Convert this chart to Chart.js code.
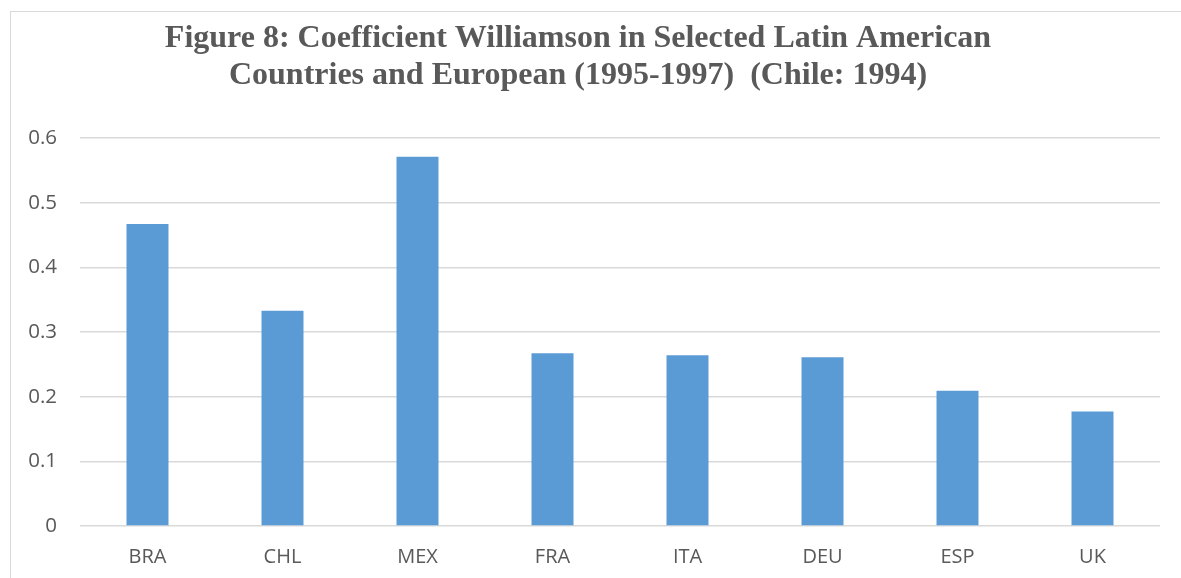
<!DOCTYPE html>
<html>
<head>
<meta charset="utf-8">
<script src="https://cdn.jsdelivr.net/npm/chart.js@4"></script>
<style>
html,body{margin:0;padding:0;background:#fff;overflow:hidden;}
#frame{position:absolute;left:10px;top:11px;width:1300px;height:700px;border:1px solid #d9d9d9;}
#wrap{position:absolute;left:0;top:0;width:1181px;height:578px;}
</style>
</head>
<body>
<div id="frame"></div>
<div id="wrap"><canvas id="c" width="1181" height="578"></canvas></div>
<script>
const categories = ["BRA","CHL","MEX","FRA","ITA","DEU","ESP","UK"];
const values = [0.467, 0.333, 0.571, 0.267, 0.264, 0.261, 0.209, 0.177];
const titleLines = ["Figure 8: Coefficient Williamson in Selected Latin American",
                    "Countries and European (1995-1997)  (Chile: 1994)"];
const yTicks = [0, 0.1, 0.2, 0.3, 0.4, 0.5, 0.6];

const titlePlugin = {
  id: 'customTitle',
  afterDraw(chart) {
    const ctx = chart.ctx;
    ctx.save();
    ctx.font = 'bold 32px "Liberation Serif", "Times New Roman", serif';
    ctx.fillStyle = '#595959';
    ctx.textAlign = 'center';
    ctx.textBaseline = 'alphabetic';
    ctx.fillText(titleLines[0], 578, 47);
    ctx.fillText(titleLines[1], 578, 84);
    ctx.restore();
  }
};

new Chart(document.getElementById('c'), {
  type: 'bar',
  data: {
    labels: categories,
    datasets: [{
      data: values,
      backgroundColor: '#5b9bd5',
      borderWidth: 0,
      barPercentage: 0.311,
      categoryPercentage: 1.0
    }]
  },
  options: {
    responsive: false,
    animation: false,
    layout: { padding: { left: 0, right: 21, top: 138, bottom: 0 } },
    plugins: { legend: { display: false }, title: { display: false }, tooltip: { enabled: false } },
    scales: {
      x: {
        grid: { display: false, drawTicks: false },
        border: { display: false },
        ticks: { color: '#595959', font: { family: '"Open Sans", sans-serif', size: 20 }, padding: 19 },
        afterFit(scale) { scale.height = 52; }
      },
      y: {
        min: 0, max: 0.6,
        afterBuildTicks(scale) { scale.ticks = yTicks.map(v => ({ value: v })); },
        grid: { color: '#d9d9d9', lineWidth: 1.5, drawTicks: false },
        border: { display: false },
        ticks: {
          color: '#595959', font: { family: '"Open Sans", sans-serif', size: 20.5 }, padding: 23,
          callback: v => String(v)
        },
        afterFit(scale) { scale.width = 80; }
      }
    }
  },
  plugins: [titlePlugin]
});
</script>
</body>
</html>
